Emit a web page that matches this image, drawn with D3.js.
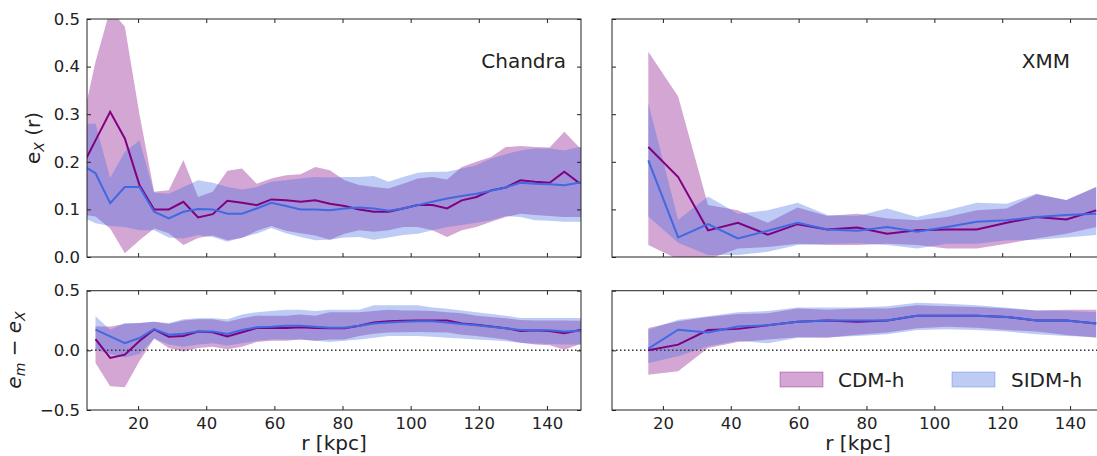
<!DOCTYPE html>
<html>
<head>
<meta charset="utf-8">
<script src="https://cdn.jsdelivr.net/npm/d3@7"></script>
<style>
  body { margin: 0; background: #fff; }
  svg { font-family: "DejaVu Sans", sans-serif; }
</style>
</head>
<body>
<svg id="chart" width="1097" height="456"></svg>
<script>
// радиусы бинов (кпк)
const rChandra = [3.2, 7.5, 11.8, 16.1, 20.4, 24.7, 29.0, 33.3, 37.6, 41.9, 46.2, 50.5, 54.8, 59.1, 63.4, 67.7, 72.0,
    76.3, 80.6, 84.9, 89.2, 93.5, 97.8, 102.1, 106.4, 110.7, 115.0, 119.3, 123.6, 127.9, 132.2, 136.5, 140.8, 145.1, 149.4, 153.7];
const rChandraRes = [7.5, 11.8, 16.1, 20.4, 24.7, 29.0, 33.3, 37.6, 41.9, 46.2, 50.5, 54.8, 59.1, 63.4, 67.7, 72.0,
    76.3, 80.6, 84.9, 89.2, 93.5, 97.8, 102.1, 106.4, 110.7, 115.0, 119.3, 123.6, 127.9, 132.2, 136.5, 140.8, 145.1, 149.4, 153.7];
const rXmm = [15.7, 24.5, 33.3, 42.1, 50.9, 59.7, 68.5, 77.3, 86.1, 94.9, 103.7, 112.5, 121.3, 130.1, 138.9, 147.7];

// Chandra, e_X(r)
const chTopCdm = [0.185, 0.245, 0.305, 0.249, 0.151, 0.100, 0.100, 0.116, 0.083, 0.090, 0.118, 0.114, 0.109, 0.121, 0.119, 0.116, 0.119,
    0.112, 0.107, 0.100, 0.095, 0.095, 0.102, 0.109, 0.109, 0.102, 0.119, 0.126, 0.140, 0.146, 0.161, 0.158, 0.156, 0.179, 0.156, 0.156];
const chTopCdmHi = [0.27, 0.41, 0.52, 0.484, 0.30, 0.137, 0.140, 0.204, 0.126, 0.137, 0.181, 0.186, 0.154, 0.165, 0.172, 0.174, 0.189,
    0.182, 0.161, 0.151, 0.147, 0.144, 0.154, 0.165, 0.168, 0.163, 0.189, 0.200, 0.210, 0.231, 0.233, 0.231, 0.230, 0.263, 0.231, 0.225];
const chTopCdmLo = [0.09, 0.085, 0.06, 0.008, 0.035, 0.06, 0.05, 0.025, 0.04, 0.045, 0.035, 0.04, 0.055, 0.065, 0.055, 0.05, 0.045,
    0.036, 0.049, 0.056, 0.053, 0.056, 0.063, 0.063, 0.056, 0.042, 0.056, 0.063, 0.074, 0.084, 0.091, 0.088, 0.086, 0.084, 0.084, 0.084];
const chTopSidm = [0.195, 0.176, 0.113, 0.147, 0.147, 0.095, 0.081, 0.095, 0.101, 0.100, 0.091, 0.091, 0.102, 0.114, 0.107, 0.100, 0.100,
    0.098, 0.102, 0.104, 0.102, 0.097, 0.102, 0.109, 0.116, 0.123, 0.128, 0.133, 0.139, 0.146, 0.156, 0.154, 0.153, 0.151, 0.156, 0.158];
const chTopSidmHi = [0.28, 0.28, 0.166, 0.221, 0.245, 0.135, 0.133, 0.147, 0.161, 0.156, 0.147, 0.142, 0.147, 0.158, 0.161, 0.165, 0.168,
    0.167, 0.168, 0.168, 0.170, 0.158, 0.168, 0.177, 0.179, 0.179, 0.186, 0.193, 0.207, 0.216, 0.224, 0.228, 0.228, 0.224, 0.231, 0.232];
const chTopSidmLo = [0.085, 0.071, 0.065, 0.063, 0.056, 0.056, 0.041, 0.039, 0.046, 0.042, 0.032, 0.041, 0.049, 0.061, 0.050, 0.042, 0.035,
    0.036, 0.041, 0.042, 0.036, 0.041, 0.046, 0.049, 0.056, 0.063, 0.067, 0.072, 0.077, 0.086, 0.084, 0.077, 0.076, 0.074, 0.074, 0.074];

// Chandra, e_m - e_X
const chResCdm = [0.095, -0.064, -0.036, 0.078, 0.175, 0.115, 0.12, 0.157, 0.151, 0.117, 0.151, 0.187, 0.187, 0.187, 0.193, 0.187,
    0.186, 0.186, 0.206, 0.234, 0.243, 0.249, 0.250, 0.250, 0.250, 0.226, 0.214, 0.200, 0.186, 0.163, 0.169, 0.163, 0.143, 0.169, 0.17];
const chResCdmHi = [0.20, 0.20, 0.22, 0.23, 0.24, 0.22, 0.25, 0.26, 0.26, 0.24, 0.27, 0.29, 0.29, 0.29, 0.30, 0.29,
    0.32, 0.32, 0.32, 0.33, 0.34, 0.335, 0.334, 0.33, 0.32, 0.31, 0.29, 0.28, 0.27, 0.254, 0.25, 0.25, 0.25, 0.249, 0.25];
const chResCdmLo = [-0.106, -0.30, -0.31, -0.09, 0.10, 0.02, -0.01, 0.02, 0.03, 0.01, 0.03, 0.07, 0.08, 0.08, 0.09, 0.08,
    0.09, 0.091, 0.12, 0.14, 0.149, 0.152, 0.154, 0.152, 0.149, 0.13, 0.12, 0.105, 0.091, 0.063, 0.05, 0.043, 0.006, 0.049, 0.05];
const chResSidm = [0.173, 0.117, 0.061, 0.103, 0.179, 0.131, 0.14, 0.159, 0.159, 0.137, 0.17, 0.193, 0.198, 0.207, 0.207, 0.198,
    0.19, 0.19, 0.206, 0.226, 0.234, 0.24, 0.243, 0.243, 0.234, 0.22, 0.211, 0.197, 0.186, 0.171, 0.171, 0.169, 0.157, 0.163, 0.165];
const chResSidmHi = [0.285, 0.173, 0.229, 0.23, 0.24, 0.23, 0.26, 0.27, 0.27, 0.26, 0.30, 0.32, 0.33, 0.34, 0.34, 0.33,
    0.34, 0.34, 0.34, 0.377, 0.377, 0.377, 0.377, 0.36, 0.349, 0.335, 0.32, 0.305, 0.291, 0.271, 0.271, 0.271, 0.271, 0.271, 0.27];
const chResSidmLo = [0.005, -0.03, -0.06, -0.03, 0.10, 0.05, 0.03, 0.05, 0.06, 0.04, 0.06, 0.08, 0.09, 0.09, 0.09, 0.08,
    0.071, 0.08, 0.091, 0.105, 0.12, 0.12, 0.12, 0.115, 0.106, 0.1, 0.091, 0.085, 0.077, 0.063, 0.058, 0.054, 0.05, 0.049, 0.049];

// XMM, e_X(r)
const xmTopCdm = [0.231, 0.168, 0.056, 0.072, 0.047, 0.069, 0.058, 0.062, 0.049, 0.056, 0.058, 0.058, 0.072, 0.084, 0.079, 0.098];
const xmTopCdmHi = [0.431, 0.337, 0.109, 0.098, 0.072, 0.104, 0.086, 0.091, 0.081, 0.077, 0.084, 0.098, 0.102, 0.132, 0.12, 0.147];
const xmTopCdmLo = [0.025, -0.005, -0.005, 0.018, 0.021, 0.028, 0.025, 0.025, 0.028, 0.025, 0.018, 0.018, 0.028, 0.039, 0.049, 0.063];
const xmTopSidm = [0.203, 0.041, 0.069, 0.039, 0.055, 0.072, 0.058, 0.055, 0.063, 0.053, 0.063, 0.074, 0.077, 0.084, 0.088, 0.091];
const xmTopSidmHi = [0.323, 0.078, 0.127, 0.091, 0.098, 0.114, 0.088, 0.086, 0.102, 0.084, 0.098, 0.114, 0.112, 0.133, 0.119, 0.147];
const xmTopSidmLo = [0.085, 0.03, 0.004, 0.004, 0.011, 0.025, 0.028, 0.029, 0.025, 0.018, 0.028, 0.028, 0.035, 0.036, 0.041, 0.046];

// XMM, e_m - e_X
const xmResCdm = [0.0, 0.048, 0.17, 0.18, 0.21, 0.24, 0.25, 0.24, 0.25, 0.29, 0.29, 0.29, 0.28, 0.25, 0.25, 0.226];
const xmResCdmHi = [0.187, 0.243, 0.28, 0.305, 0.31, 0.35, 0.34, 0.35, 0.35, 0.377, 0.37, 0.363, 0.35, 0.334, 0.34, 0.34];
const xmResCdmLo = [-0.204, -0.176, 0.02, 0.07, 0.09, 0.11, 0.106, 0.13, 0.149, 0.186, 0.197, 0.19, 0.17, 0.157, 0.129, 0.106];
const xmResSidm = [0.015, 0.173, 0.15, 0.2, 0.21, 0.24, 0.25, 0.25, 0.25, 0.29, 0.29, 0.29, 0.28, 0.25, 0.25, 0.226];
const xmResSidmHi = [0.173, 0.257, 0.285, 0.32, 0.33, 0.36, 0.36, 0.36, 0.37, 0.40, 0.39, 0.377, 0.357, 0.334, 0.33, 0.32];
const xmResSidmLo = [-0.106, -0.05, 0.034, 0.08, 0.06, 0.105, 0.11, 0.12, 0.135, 0.17, 0.177, 0.17, 0.157, 0.135, 0.12, 0.111];

const xTicks = [20, 40, 60, 80, 100, 120, 140];
const yTicksTop = [0.0, 0.1, 0.2, 0.3, 0.4, 0.5];
const yTicksRes = [-0.5, 0.0, 0.5];
const legendLabels = ["CDM-h", "SIDM-h"];

const cdmColor = "#800080";
const sidmColor = "#4169e1";

// собираем массив точек из отдельных рядов
function series(r, mean, lo, hi) {
    return r.map((v, i) => ({r: v, m: mean[i], lo: lo[i], hi: hi[i]}));
}

const panels = [
    {id: "tl", box: {x0: 87, x1: 581, y0: 19, y1: 257}, yDomain: [0, 0.5], yTicks: yTicksTop,
     showX: false, showY: true, title: "Chandra",
     cdm: series(rChandra, chTopCdm, chTopCdmLo, chTopCdmHi),
     sidm: series(rChandra, chTopSidm, chTopSidmLo, chTopSidmHi)},
    {id: "tr", box: {x0: 612, x1: 1104, y0: 19, y1: 257}, yDomain: [0, 0.5], yTicks: yTicksTop,
     showX: false, showY: false, title: "XMM",
     cdm: series(rXmm, xmTopCdm, xmTopCdmLo, xmTopCdmHi),
     sidm: series(rXmm, xmTopSidm, xmTopSidmLo, xmTopSidmHi)},
    {id: "bl", box: {x0: 87, x1: 581, y0: 290.7, y1: 410}, yDomain: [-0.5, 0.5], yTicks: yTicksRes,
     showX: true, showY: true, zero: true,
     cdm: series(rChandraRes, chResCdm, chResCdmLo, chResCdmHi),
     sidm: series(rChandraRes, chResSidm, chResSidmLo, chResSidmHi)},
    {id: "br", box: {x0: 612, x1: 1104, y0: 290.7, y1: 410}, yDomain: [-0.5, 0.5], yTicks: yTicksRes,
     showX: true, showY: false, zero: true, legend: true,
     cdm: series(rXmm, xmResCdm, xmResCdmLo, xmResCdmHi),
     sidm: series(rXmm, xmResSidm, xmResSidmLo, xmResSidmHi)}
];

const svg = d3.select("#chart");
const defs = svg.append("defs");

function drawPanel(p) {
    const b = p.box;
    const scX = d3.scaleLinear().domain([5, 150]).range([b.x0, b.x1]);
    const scY = d3.scaleLinear().domain(p.yDomain).range([b.y1, b.y0]);

    defs.append("clipPath").attr("id", "clip-" + p.id)
        .append("rect")
        .attr("x", b.x0).attr("y", b.y0)
        .attr("width", b.x1 - b.x0).attr("height", b.y1 - b.y0);

    const g = svg.append("g").attr("clip-path", `url(#clip-${p.id})`);

    const area = d3.area().x(d => scX(d.r)).y0(d => scY(d.lo)).y1(d => scY(d.hi));
    const line = d3.line().x(d => scX(d.r)).y(d => scY(d.m));

    // полосы разброса
    g.append("path").datum(p.cdm).attr("d", area)
        .attr("fill", cdmColor).attr("fill-opacity", 0.35);
    g.append("path").datum(p.sidm).attr("d", area)
        .attr("fill", sidmColor).attr("fill-opacity", 0.35);

    if (p.zero) {
        g.append("line")
            .attr("x1", b.x0).attr("x2", b.x1)
            .attr("y1", scY(0)).attr("y2", scY(0))
            .attr("stroke", "#333").attr("stroke-width", 1.5)
            .attr("stroke-dasharray", "1.5,2.5");
    }

    // средние линии
    g.append("path").datum(p.cdm).attr("d", line)
        .attr("fill", "none").attr("stroke", cdmColor).attr("stroke-width", 2);
    g.append("path").datum(p.sidm).attr("d", line)
        .attr("fill", "none").attr("stroke", sidmColor).attr("stroke-width", 2);

    // оси, засечки внутрь со всех сторон
    const axB = d3.axisBottom(scX).tickValues(xTicks).tickSizeInner(-4).tickSizeOuter(0).tickPadding(7);
    if (!p.showX) axB.tickFormat("");
    const axT = d3.axisTop(scX).tickValues(xTicks).tickSizeInner(-4).tickSizeOuter(0).tickFormat("");
    const axL = d3.axisLeft(scY).tickValues(p.yTicks).tickSizeInner(-4).tickSizeOuter(0).tickPadding(7)
        .tickFormat(d3.format(".1f"));
    if (!p.showY) axL.tickFormat("");
    const axR = d3.axisRight(scY).tickValues(p.yTicks).tickSizeInner(-4).tickSizeOuter(0).tickFormat("");

    const axes = [
        [axB, `translate(0,${b.y1})`],
        [axT, `translate(0,${b.y0})`],
        [axL, `translate(${b.x0},0)`],
        [axR, `translate(${b.x1},0)`]
    ];
    axes.forEach(([ax, tr]) => {
        const a = svg.append("g").attr("transform", tr).call(ax);
        a.select(".domain").remove();
        a.selectAll("line").attr("stroke", "#222");
        a.selectAll("text").attr("fill", "#222").style("font-size", "16.5px")
            .style("font-family", "DejaVu Sans");
    });

    svg.append("rect")
        .attr("x", b.x0).attr("y", b.y0)
        .attr("width", b.x1 - b.x0).attr("height", b.y1 - b.y0)
        .attr("fill", "none").attr("stroke", "#222").attr("stroke-width", 1);

    if (p.title) {
        svg.append("text")
            .attr("x", p.id === "tl" ? 566 : 1070).attr("y", 68)
            .attr("text-anchor", "end")
            .style("font-size", "20px").attr("fill", "#222")
            .text(p.title);
    }

    if (p.showX) {
        svg.append("text")
            .attr("x", (b.x0 + b.x1) / 2).attr("y", 450)
            .attr("text-anchor", "middle")
            .style("font-size", "20px").attr("fill", "#222")
            .text("r [kpc]");
    }

    if (p.legend) {
        const items = [
            {label: legendLabels[0], color: cdmColor, x: 780, tx: 838},
            {label: legendLabels[1], color: sidmColor, x: 952, tx: 1011}
        ];
        items.forEach(it => {
            svg.append("rect")
                .attr("x", it.x).attr("y", 372).attr("width", 43).attr("height", 15)
                .attr("fill", it.color).attr("fill-opacity", 0.35)
                .attr("stroke", it.color).attr("stroke-opacity", 0.35);
            svg.append("text")
                .attr("x", it.tx).attr("y", 387)
                .style("font-size", "20px").attr("fill", "#222")
                .text(it.label);
        });
    }
}

panels.forEach(drawPanel);

// подписи осей Y
const lab1 = svg.append("text")
    .attr("transform", "translate(40,138) rotate(-90)")
    .attr("text-anchor", "middle")
    .style("font-size", "20px").attr("fill", "#222");
lab1.append("tspan").text("e");
lab1.append("tspan").attr("baseline-shift", "-25%").style("font-size", "14px").style("font-style", "italic").text("X");
lab1.append("tspan").text(" (r)");

const lab2 = svg.append("text")
    .attr("transform", "translate(21,350) rotate(-90)")
    .attr("text-anchor", "middle")
    .style("font-size", "20px").attr("fill", "#222");
lab2.append("tspan").style("font-style", "italic").text("e");
lab2.append("tspan").attr("baseline-shift", "-25%").style("font-size", "14px").style("font-style", "italic").text("m");
lab2.append("tspan").text(" \u2212 ");
lab2.append("tspan").style("font-style", "italic").text("e");
lab2.append("tspan").attr("baseline-shift", "-25%").style("font-size", "14px").style("font-style", "italic").text("X");
</script>
</body>
</html>
